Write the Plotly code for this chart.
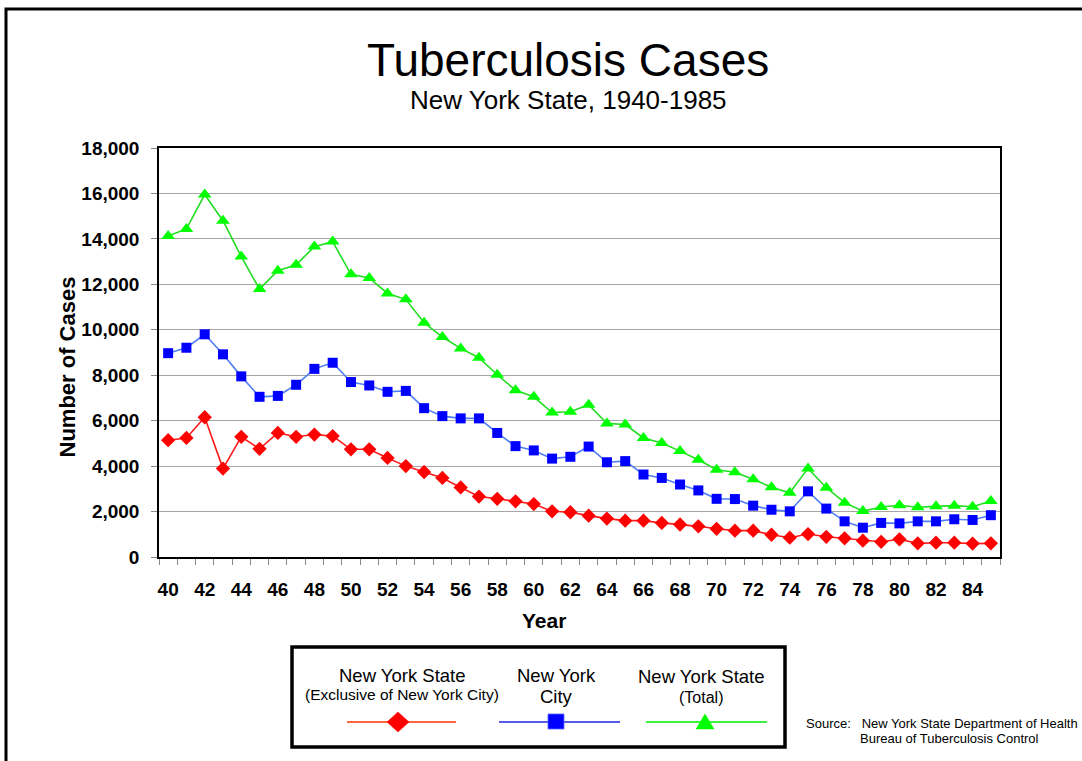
import plotly.graph_objects as go

years = [40, 41, 42, 43, 44, 45, 46, 47, 48, 49, 50, 51, 52, 53, 54, 55,
         56, 57, 58, 59, 60, 61, 62, 63, 64, 65, 66, 67, 68, 69, 70, 71,
         72, 73, 74, 75, 76, 77, 78, 79, 80, 81, 82, 83, 84, 85]

# New York State, exclusive of New York City
exclusive = [5140, 5240, 6150, 3890, 5290, 4760, 5460, 5290, 5390, 5320, 4740, 4740,
             4360, 4000, 3740, 3480, 3060, 2660, 2560, 2450, 2330, 2010, 1970, 1820,
             1690, 1600, 1600, 1500, 1430, 1350, 1240, 1160, 1160, 980, 850, 1010,
             890, 820, 720, 670, 780, 600, 630, 630, 590, 600]

# New York City
nyc = [8970, 9210, 9800, 8920, 7950, 7050, 7090, 7580, 8280, 8550, 7700, 7550,
       7270, 7310, 6550, 6200, 6100, 6100, 5460, 4880, 4690, 4330, 4410, 4860,
       4170, 4220, 3630, 3480, 3190, 2930, 2560, 2550, 2260, 2080, 2010, 2890,
       2130, 1570, 1290, 1500, 1480, 1570, 1570, 1660, 1630, 1840]

# New York State total
total = [14130, 14440, 15950, 14800, 13220, 11790, 12600, 12860, 13660, 13880, 12440, 12280,
         11600, 11340, 10310, 9680, 9180, 8770, 8020, 7340, 7050, 6360, 6390, 6700,
         5880, 5830, 5240, 5020, 4660, 4280, 3840, 3730, 3420, 3070, 2830, 3900,
         3050, 2390, 2020, 2200, 2280, 2190, 2230, 2260, 2210, 2460]

tick_years = [40, 42, 44, 46, 48, 50, 52, 54, 56, 58, 60, 62, 64, 66, 68, 70, 72, 74,
              76, 78, 80, 82, 84]

W, H = 1082, 761
L, R, T, B = 159, 1000, 148, 557


def px(x):
    return (x - L) / (R - L)


def py(y):
    return (B - y) / (B - T)


fig = go.Figure()
fig.add_trace(go.Scatter(x=years, y=exclusive, mode='lines+markers',
                         line=dict(color='#ff1a1a', width=1.6),
                         marker=dict(symbol='diamond', size=11, color='#ff0000')))
fig.add_trace(go.Scatter(x=years, y=nyc, mode='lines+markers',
                         line=dict(color='#4f7df5', width=1.6),
                         marker=dict(symbol='square', size=10, color='#0000ff')))
fig.add_trace(go.Scatter(x=years, y=total, mode='lines+markers',
                         line=dict(color='#22dd22', width=1.6),
                         marker=dict(symbol='triangle-up', size=12, color='#00ff00')))

font = 'Arial, Liberation Sans, sans-serif'
ann = []


def text(x, y, s, size, bold=False, xanchor='center'):
    ann.append(dict(x=px(x), y=py(y), xref='paper', yref='paper', text=s,
                    showarrow=False, xanchor=xanchor, yanchor='middle',
                    font=dict(family=font, size=size, color='black',
                              weight='bold' if bold else 'normal')))


text(568, 60, 'Tuberculosis Cases', 46)
text(568, 100, 'New York State, 1940-1985', 26)
text(544, 620, 'Year', 21, bold=True)
text(402, 675, 'New York State', 18.5)
text(402, 694, '(Exclusive of New York City)', 15.5)
text(556, 675, 'New York', 18.5)
text(556, 696, 'City', 18.5)
text(701, 676, 'New York State', 18.5)
text(701, 697, '(Total)', 16)
text(804, 723, 'Source:&nbsp;&nbsp;&nbsp;New York State Department of Health', 13, xanchor='left')
text(858, 738, 'Bureau of Tuberculosis Control', 13, xanchor='left')
ann.append(dict(x=px(52), y=py(367), xref='paper', yref='paper', text='Number of Cases',
                showarrow=False, textangle=-90,
                font=dict(family=font, size=22, color='black', weight='bold')))

shapes = []
# outer frame
shapes.append(dict(type='rect', xref='paper', yref='paper', x0=px(6), x1=px(1095), y0=py(9), y1=py(780),
                   line=dict(color='black', width=3)))
# legend box
shapes.append(dict(type='rect', xref='paper', yref='paper', x0=px(292), x1=px(785), y0=py(647), y1=py(747),
                   line=dict(color='black', width=3.5), fillcolor='white'))
# legend lines and symbols
for x0, x1, c in [(347, 456, '#ff3300'), (499, 620, '#2222dd'), (646, 767, '#00ee00')]:
    shapes.append(dict(type='line', xref='paper', yref='paper', x0=px(x0), x1=px(x1), y0=py(722), y1=py(722),
                       line=dict(color=c, width=1.5)))


def path(pts):
    return 'M ' + ' L '.join(f'{px(a):.5f},{py(b):.5f}' for a, b in pts) + ' Z'


shapes.append(dict(type='path', xref='paper', yref='paper',
                   path=path([(398, 712), (409, 722), (398, 732), (387, 722)]),
                   fillcolor='#ff0000', line=dict(color='#ff0000', width=0.5)))
shapes.append(dict(type='path', xref='paper', yref='paper',
                   path=path([(548, 714), (564, 714), (564, 729), (548, 729)]),
                   fillcolor='#0000ff', line=dict(color='#5566ff', width=0.8)))
shapes.append(dict(type='path', xref='paper', yref='paper',
                   path=path([(705, 714), (714, 729), (696, 729)]),
                   fillcolor='#00ff00', line=dict(color='#00ff00', width=0.5)))

fig.update_layout(
    width=W, height=H,
    margin=dict(l=L, r=W - R, t=T, b=H - B),
    paper_bgcolor='white', plot_bgcolor='white',
    showlegend=False,
    annotations=ann, shapes=shapes,
    font=dict(family=font, color='black'),
)
fig.update_xaxes(range=[39.5, 85.5], tickvals=tick_years, ticktext=[str(v) for v in tick_years],
                 ticks='', showgrid=False, zeroline=False,
                 showline=True, linecolor='black', linewidth=1.5, mirror=True,
                 tickfont=dict(family=font, size=19, color='black', weight='bold'), ticklabelstandoff=14,
                 minor=dict(ticks='outside', tick0=39.5, dtick=1, ticklen=6, tickcolor='#888888',
                            showgrid=False))
fig.update_yaxes(range=[0, 18000], dtick=2000, tickformat=',', ticks='outside', ticklen=6,
                 tickcolor='#888888', showgrid=True, gridcolor='#a6a6a6', gridwidth=1, zeroline=False,
                 showline=True, linecolor='black', linewidth=1.5, mirror=True,
                 tickfont=dict(family=font, size=19, color='black', weight='bold'), ticklabelstandoff=8)

# page body margin off so the figure sits at the window's top-left corner
fig.write_html("out.html", config={'displayModeBar': False},
               post_script="document.body.style.margin='0';")
